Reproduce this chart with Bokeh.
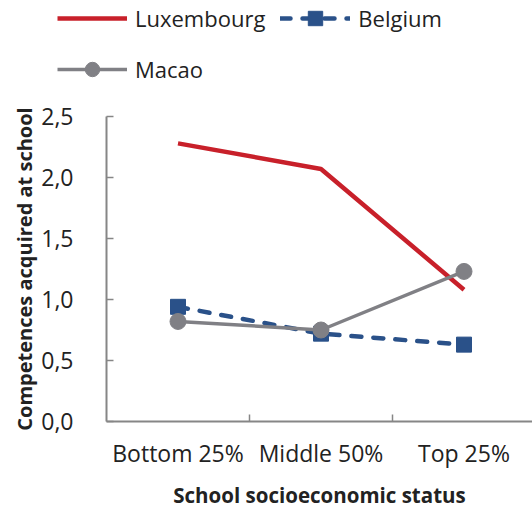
from bokeh.plotting import figure
from bokeh.models import Range1d, FixedTicker, Legend, LegendItem, LinearAxis
from bokeh.embed import file_html
from bokeh.resources import INLINE

categories = ["Bottom 25%", "Middle 50%", "Top 25%"]
luxembourg = [2.28, 2.07, 1.08]
belgium = [0.94, 0.72, 0.63]
macao = [0.82, 0.75, 1.23]
y_ticks = [0.0, 0.5, 1.0, 1.5, 2.0, 2.5]
y_labels = ["0,0", "0,5", "1,0", "1,5", "2,0", "2,5"]
series_names = ["Luxembourg", "Belgium", "Macao"]

xpos = [i + 0.5 for i in range(len(categories))]

FONT = "Open Sans"
AXIS_COL = "#868686"
TEXT_COL = "#222222"
LUX_COL = "#C8202A"
BEL_COL = "#2A5189"
MAC_COL = "#808085"

W, H = 532, 508
X0_PX, Y0_PX = 106, 421          # pixel position of the data origin
PX_PER_X, PX_PER_Y = 143, 122    # pixels per data unit

x_range = Range1d(-X0_PX / PX_PER_X, (W - X0_PX) / PX_PER_X)
y_range = Range1d(-(H - Y0_PX) / PX_PER_Y, Y0_PX / PX_PER_Y)

p = figure(width=W, height=H, output_backend="svg", toolbar_location=None,
           x_range=x_range, y_range=y_range,
           x_axis_location=None, y_axis_location=None,
           min_border=0, min_border_left=0, min_border_right=0,
           min_border_top=0, min_border_bottom=0)
p.outline_line_color = None
p.grid.grid_line_color = None

r_lux = p.line(xpos, luxembourg, line_color=LUX_COL, line_width=4.5)
r_bel = p.line(xpos, belgium, line_color=BEL_COL, line_width=4.5, line_dash="10 12", line_cap="round")
r_bel_m = p.scatter(xpos, belgium, marker="square", size=15, fill_color=BEL_COL, line_color=BEL_COL)
r_mac = p.line(xpos, macao, line_color=MAC_COL, line_width=3.5)
r_mac_m = p.scatter(xpos, macao, marker="circle", size=16, fill_color=MAC_COL, line_color=MAC_COL)

xa = LinearAxis(fixed_location=0, bounds=(0, x_range.end))
xa.ticker = FixedTicker(ticks=xpos, minor_ticks=[1, 2])
xa.major_label_overrides = {x: c for x, c in zip(xpos, categories)}
xa.major_tick_in = 0
xa.major_tick_out = 0
xa.minor_tick_in = 7
xa.minor_tick_out = 0
xa.axis_line_color = AXIS_COL
xa.axis_line_width = 2
xa.minor_tick_line_color = AXIS_COL
xa.minor_tick_line_width = 1.5
xa.major_label_standoff = 15
xa.major_label_text_font = FONT
xa.major_label_text_font_size = "23px"
xa.major_label_text_color = TEXT_COL
xa.axis_label = "School socioeconomic status"
xa.axis_label_text_font = FONT
xa.axis_label_text_font_size = "20.5px"
xa.axis_label_text_font_style = "bold"
xa.axis_label_text_color = TEXT_COL
xa.axis_label_standoff = 9
p.add_layout(xa, "below")

ya = LinearAxis(fixed_location=0, bounds=(0, 2.5))
ya.ticker = FixedTicker(ticks=y_ticks)
ya.major_label_overrides = {t: l for t, l in zip(y_ticks, y_labels)}
ya.major_tick_in = 7
ya.major_tick_out = 0
ya.minor_tick_line_color = None
ya.axis_line_color = AXIS_COL
ya.axis_line_width = 2
ya.major_tick_line_color = AXIS_COL
ya.major_tick_line_width = 1.5
ya.major_label_standoff = 33
ya.major_label_text_font = FONT
ya.major_label_text_font_size = "23px"
ya.major_label_text_color = TEXT_COL
ya.axis_label = "Competences acquired at school"
ya.axis_label_text_font = FONT
ya.axis_label_text_font_size = "20px"
ya.axis_label_text_font_style = "bold"
ya.axis_label_text_color = TEXT_COL
ya.axis_label_standoff = 0
p.add_layout(ya, "left")

legend = Legend(items=[
    LegendItem(label=series_names[0], renderers=[r_lux]),
    LegendItem(label=series_names[1], renderers=[r_bel, r_bel_m]),
    LegendItem(label=series_names[2], renderers=[r_mac, r_mac_m]),
], orientation="horizontal", nrows=2, location=(57, 421),
    glyph_width=70, glyph_height=36, label_height=36, spacing=15,
    label_standoff=8, padding=0, margin=0, border_line_color=None,
    background_fill_alpha=0,
    label_text_font=FONT, label_text_font_size="22px", label_text_color=TEXT_COL)
p.add_layout(legend, "center")

open("out.html", "w").write(file_html(p, INLINE))
